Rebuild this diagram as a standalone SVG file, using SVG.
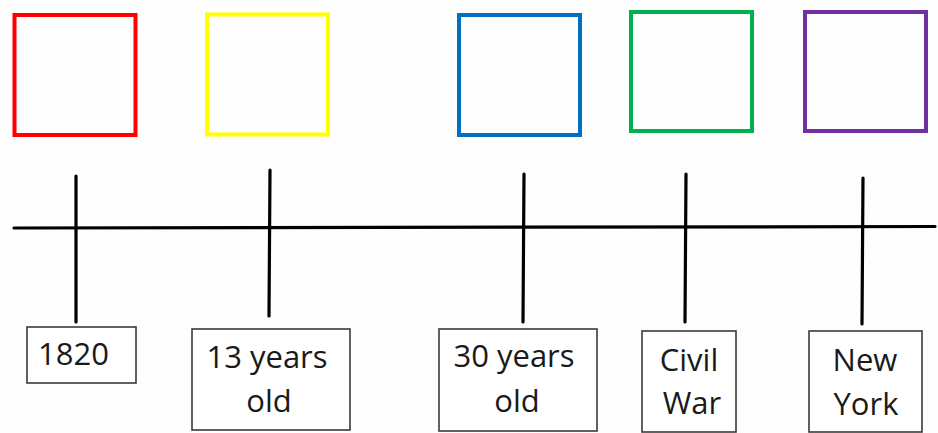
<svg xmlns="http://www.w3.org/2000/svg" width="938" height="433" viewBox="0 0 938 433">
<style>
.sq{fill:none;stroke-width:4}
.lb{fill:#fff;stroke:#3a3a3a;stroke-width:1.6}
.t{font-family:"Open Sans","Liberation Sans",sans-serif;font-size:31px;fill:#1a1a1a;text-anchor:middle}
.ln{stroke:#000;stroke-width:3.2;stroke-linecap:round;fill:none}
</style>
<rect width="938" height="433" fill="#fdfdfd"/>
<g id="box-red"><rect class="sq" x="14.5" y="15" width="121" height="120" stroke="#ff0000"/></g>
<g id="box-yellow"><rect class="sq" x="207" y="14.5" width="121" height="120" stroke="#ffff00"/></g>
<g id="box-blue"><rect class="sq" x="459" y="15" width="121" height="120" stroke="#0070c0"/></g>
<g id="box-green"><rect class="sq" x="631" y="12" width="121" height="119" stroke="#00b050"/></g>
<g id="box-purple"><rect class="sq" x="805" y="12" width="121" height="119" stroke="#7030a0"/></g>
<g id="connectors">
<line class="ln" x1="14" y1="228" x2="935" y2="226.5"/>
<line class="ln" x1="76" y1="176" x2="76" y2="322"/>
<line class="ln" x1="270" y1="170" x2="269" y2="316"/>
<line class="ln" x1="524" y1="174" x2="523" y2="322"/>
<line class="ln" x1="686" y1="174" x2="685" y2="322"/>
<line class="ln" x1="863" y1="178" x2="862" y2="324"/>
</g>
<g id="label-1820"><rect class="lb" x="27" y="327" width="109" height="56"/><text class="t" x="38" y="365" style="text-anchor:start">1820</text></g>
<g id="label-13"><rect class="lb" x="192" y="329" width="158" height="101"/><text class="t" x="267" y="368">13 years</text><text class="t" x="269" y="412">old</text></g>
<g id="label-30"><rect class="lb" x="439" y="329" width="158" height="102"/><text class="t" x="514" y="367">30 years</text><text class="t" x="517" y="412">old</text></g>
<g id="label-civil"><rect class="lb" x="642" y="331" width="94" height="101"/><text class="t" x="689" y="371">Civil</text><text class="t" x="692" y="414">War</text></g>
<g id="label-ny"><rect class="lb" x="809" y="331" width="113" height="101"/><text class="t" x="865" y="371">New</text><text class="t" x="866" y="415">York</text></g>
</svg>
